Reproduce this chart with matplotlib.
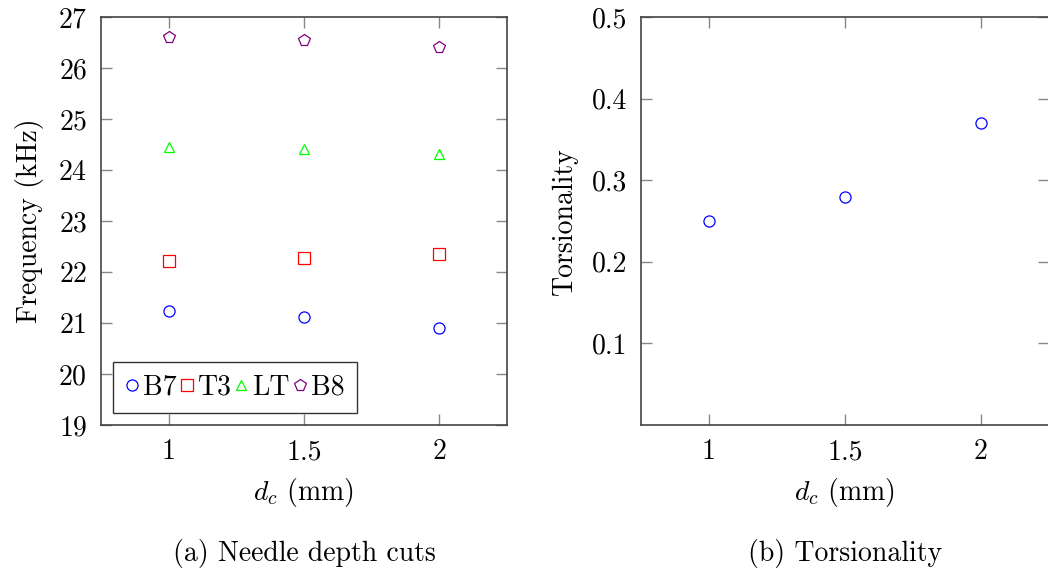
import matplotlib
matplotlib.use("Agg")
import matplotlib.pyplot as plt
from matplotlib.lines import Line2D

plt.rcParams["font.family"] = "cmr10"
plt.rcParams["mathtext.fontset"] = "cm"
plt.rcParams["axes.formatter.use_mathtext"] = True
plt.rcParams["font.size"] = 20

# needle depth cut (mm)
dc = [1.0, 1.5, 2.0]

# modal frequencies (kHz)
f_b7 = [21.24, 21.12, 20.90]
f_t3 = [22.22, 22.27, 22.35]
f_lt = [24.45, 24.42, 24.32]
f_b8 = [26.61, 26.54, 26.42]

# torsionality ratio
tors = [0.25, 0.28, 0.37]

# name, data, marker, size, colour
series = [
    ("B7", f_b7, "o", 8, (0, 0, 1)),
    ("T3", f_t3, "s", 8, (1, 0, 0)),
    ("LT", f_lt, "^", 7, (0, 1, 0)),
    ("B8", f_b8, "p", 8.5, (0.5, 0, 0.5)),
]

fig = plt.figure(figsize=(10.48, 5.73), dpi=100)
W, H = 1048, 573
ax1 = fig.add_axes([101 / W, 1 - 425 / H, 406 / W, 408 / H])
ax2 = fig.add_axes([641 / W, 1 - 425 / H, 408 / W, 408 / H])


def style(ax):
    ax.set_xlim(0.75, 2.25)
    ax.set_xticks([1, 1.5, 2])
    ax.set_xticklabels(["1", "1.5", "2"])
    ax.tick_params(direction="in", length=8, width=1, color="#888888",
                   top=True, right=True, pad=10, labelsize=20)
    for s in ax.spines.values():
        s.set_linewidth(1.2)
        s.set_color("#444444")
    ax.set_xlabel("$d_c$ (mm)", fontsize=20, labelpad=8)


for name, vals, mk, ms, col in series:
    ax1.plot(dc, vals, linestyle="none", marker=mk, markersize=ms,
             markerfacecolor="none", markeredgecolor=col, markeredgewidth=0.9)
style(ax1)
ax1.set_ylim(19, 27)
ax1.set_yticks(range(19, 28))
ax1.set_ylabel("Frequency (kHz)", fontsize=20, labelpad=10)

handles = [Line2D([], [], linestyle="none", marker=mk, markersize=ms,
                  markerfacecolor="none", markeredgecolor=col, markeredgewidth=0.9)
           for _, _, mk, ms, col in series]
leg = ax1.legend(handles, [s[0] for s in series], loc="lower left", ncol=4,
                 bbox_to_anchor=(0, 0), borderaxespad=0.42,
                 handlelength=0.5, handletextpad=0.15,
                 columnspacing=0.1, borderpad=0.45, fancybox=False,
                 edgecolor="#333333", framealpha=1, fontsize=20)
leg.get_frame().set_linewidth(1.0)

ax2.plot(dc, tors, linestyle="none", marker="o", markersize=8,
         markerfacecolor="none", markeredgecolor=(0, 0, 1), markeredgewidth=0.9)
style(ax2)
ax2.set_ylim(0, 0.5)
ax2.set_yticks([0.1, 0.2, 0.3, 0.4, 0.5])
ax2.set_yticklabels(["0.1", "0.2", "0.3", "0.4", "0.5"])
ax2.set_ylabel("Torsionality", fontsize=20, labelpad=10)

fig.text(304 / W, 1 - 553 / H, "(a) Needle depth cuts", ha="center", va="center", fontsize=20)
fig.text(845 / W, 1 - 553 / H, "(b) Torsionality", ha="center", va="center", fontsize=20)

fig.savefig("out.png", dpi=100)
